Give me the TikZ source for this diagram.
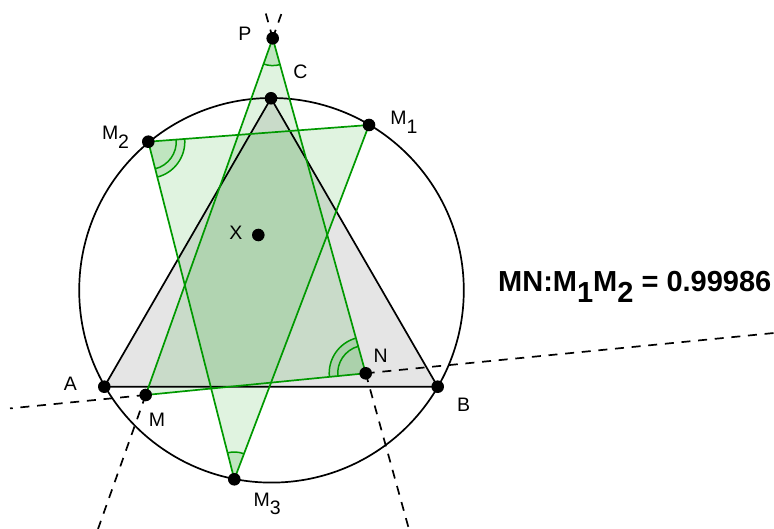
\documentclass[tikz,border=0pt]{standalone}
\usepackage{fontspec}
\setmainfont{Liberation Sans}
\usetikzlibrary{angles,calc}
\definecolor{ggreen}{RGB}{0,153,0}
\begin{document}
\begin{tikzpicture}[x=1pt,y=1pt,
  pt/.style={circle,fill=black,inner sep=0pt,minimum size=12.6pt},
  lab/.style={inner sep=0pt,font=\fontsize{19.5}{20}\selectfont},
  dline/.style={line width=1.7pt,dash pattern=on 9pt off 7.7pt},
  gline/.style={ggreen,line width=1.7pt},
  bline/.style={black,line width=1.7pt},
  gfill/.style={fill=ggreen,fill opacity=0.12},
  angmark/.style={draw=ggreen,fill=ggreen,fill opacity=0.15,line width=1.5pt},
  angarc/.style={draw=ggreen,line width=1.5pt}]
\useasboundingbox (0,-529) rectangle (774,0);
% points
\coordinate (P) at (272.7,-38.3);
\coordinate (C) at (271,-98.3);
\coordinate (M1) at (369,-125);
\coordinate (M2) at (148.3,-141.7);
\coordinate (X) at (258.3,-235);
\coordinate (A) at (104.3,-386.7);
\coordinate (B) at (437.7,-386.7);
\coordinate (N) at (365.7,-373.3);
\coordinate (M) at (145.7,-395);
\coordinate (M3) at (234.3,-479.3);
\coordinate (O) at (271.5,-290.3);
% ends of the dashed lines
\coordinate (PMtop) at (282.4,-11);
\coordinate (PNtop) at (265.1,-11);
\coordinate (Mbot) at (98,-529);
\coordinate (Nbot) at (408.9,-529);
\coordinate (Lleft) at (10,-408.4);
\coordinate (Lright) at (774,-333);
% fills
\fill[black,fill opacity=0.1] (A) -- (B) -- (C) -- cycle;
\fill[gfill] (M1) -- (M2) -- (M3) -- cycle;
\fill[gfill] (P) -- (M) -- (N) -- cycle;
% angle marks
\pic[angmark,angle radius=27.3pt]{angle=M--P--N};
\pic[angmark,angle radius=27.3pt]{angle=M1--M3--M2};
\pic[angmark,angle radius=36.5pt]{angle=M3--M2--M1};
\pic[angarc,angle radius=28pt]{angle=M3--M2--M1};
\pic[angmark,angle radius=36.5pt]{angle=P--N--M};
\pic[angarc,angle radius=28pt]{angle=P--N--M};
% dashed lines
\draw[dline] (P) -- (PMtop);
\draw[dline] (P) -- (PNtop);
\draw[dline] (M) -- (Mbot);
\draw[dline] (N) -- (Nbot);
\draw[dline] (M) -- (Lleft);
\draw[dline] (N) -- (Lright);
% circle
\draw[bline] (O) circle[radius=192.3pt];
% triangle ABC
\draw[bline,line join=round] (A) -- (B) -- (C) -- cycle;
% green triangles
\draw[gline,line join=round] (M1) -- (M2) -- (M3) -- cycle;
\draw[gline,line join=round] (P) -- (M) -- (N) -- cycle;
% dots
\foreach \q in {P,C,M1,M2,X,A,B,N,M,M3} \node[pt] (d\q) at (\q) {};
% labels
\node[lab] (lP) at (245,-33.7) {P};
\node[lab] (lC) at (300.3,-72) {C};
\node[lab] (lX) at (236,-233) {X};
\node[lab] (lA) at (70.3,-383.3) {A};
\node[lab] (lM) at (157,-420) {M};
\node[lab] (lN) at (380.7,-355.3) {N};
\node[lab] (lB) at (463.7,-404.7) {B};
\node[lab,anchor=base west] (lM1) at (390.2,-125) {M\raisebox{-8.3pt}{1}};
\node[lab,anchor=base west] (lM2) at (101.8,-140) {M\raisebox{-8.3pt}{2}};
\node[lab,anchor=base west] (lM3) at (253.5,-506) {M\raisebox{-8.8pt}{3}};
\node[anchor=base west,inner sep=0pt,font=\fontsize{29}{30}\selectfont\bfseries] (ratio) at (498,-291.7) {MN:M\raisebox{-11pt}{1}M\raisebox{-11pt}{2} = 0.99986};
\end{tikzpicture}
\end{document}
